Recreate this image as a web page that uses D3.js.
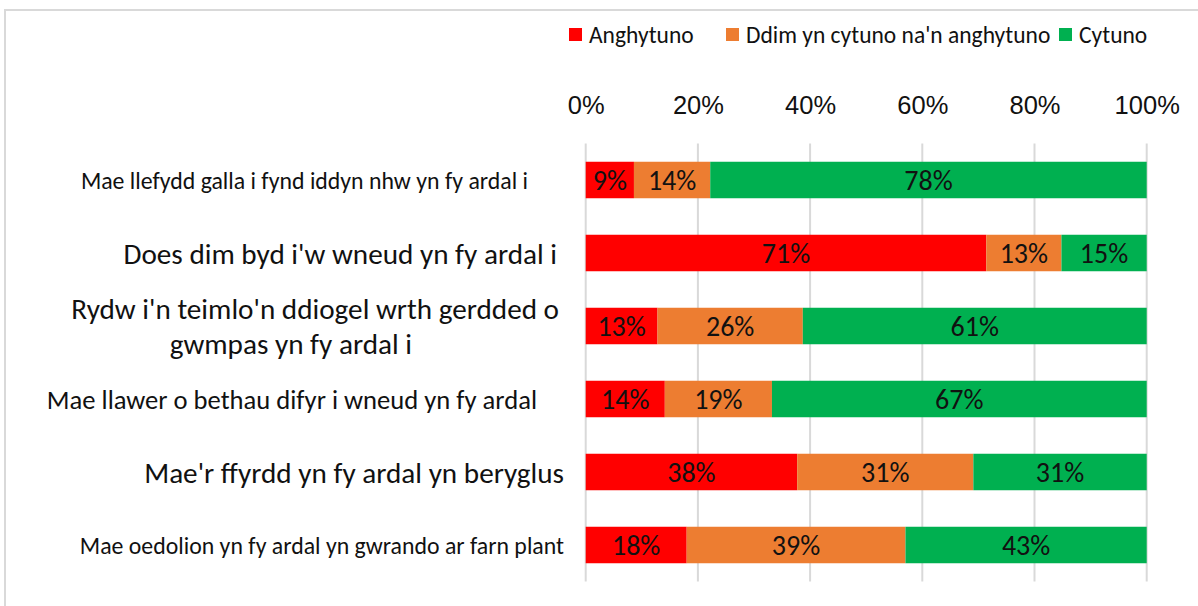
<!DOCTYPE html>
<html>
<head>
<meta charset="utf-8">
<script src="https://cdn.jsdelivr.net/npm/d3@7"></script>
<style>
  body { margin: 0; background: #fff; }
  svg { display: block; font-family: Carlito, Calibri, Lato, sans-serif; }
</style>
</head>
<body>
<svg></svg>
<script>
var WIDTH = 1198;
var HEIGHT = 606;

var categories = [
    "Mae llefydd galla i fynd iddyn nhw yn fy ardal i",
    "Does dim byd i'w wneud yn fy ardal i",
    "Rydw i'n teimlo'n ddiogel wrth gerdded o\ngwmpas yn fy ardal i",
    "Mae llawer o bethau difyr i wneud yn fy ardal",
    "Mae'r ffyrdd yn fy ardal yn beryglus",
    "Mae oedolion yn fy ardal yn gwrando ar farn plant"
];
var seriesNames = ["Anghytuno", "Ddim yn cytuno na'n anghytuno", "Cytuno"];
var anghytuno = [8.6, 71.4, 12.8, 14.1, 37.7, 18.0];
var ddim = [13.6, 13.4, 25.9, 19.1, 31.4, 39.0];
var cytuno = [77.8, 15.2, 61.3, 66.8, 30.9, 43.0];
var tickValues = [0, 20, 40, 60, 80, 100];

var colors = ["#ff0000", "#ed7d31", "#00b050"];

// label styling per row (excel shrank some of them)
var labelSize = [23.8, 29.2, 29.2, 26.6, 29.2, 23.8];
var labelRight = [[528], [557], [559, 412], [537], [564], [564]];

var margin = { top: 143.5, left: 585.7, right: 51.3, bottom: 24.5 };

var rows = categories.map(function(c, i) {
    return { label: c, Anghytuno: anghytuno[i], Ddim: ddim[i], Cytuno: cytuno[i] };
});
var keys = ["Anghytuno", "Ddim", "Cytuno"];

var svg = d3.select('svg')
    .attr('width', WIDTH)
    .attr('height', HEIGHT);

// chart frame
svg.append('rect')
    .attr('x', 5).attr('y', 10)
    .attr('width', WIDTH + 20).attr('height', HEIGHT + 20)
    .attr('fill', 'none')
    .attr('stroke', '#d9d9d9')
    .attr('stroke-width', 2);

var x = d3.scaleLinear()
    .domain([0, 100])
    .range([margin.left, WIDTH - margin.right]);

var y = d3.scaleBand()
    .domain(d3.range(categories.length))
    .range([margin.top, HEIGHT - margin.bottom])
    .paddingInner(0.5)
    .paddingOuter(0.25);

// gridlines
svg.append('g').selectAll('line')
    .data(tickValues)
    .enter()
    .append('line')
    .attr('x1', function(d) { return x(d); })
    .attr('x2', function(d) { return x(d); })
    .attr('y1', margin.top)
    .attr('y2', HEIGHT - margin.bottom)
    .attr('stroke', '#d9d9d9')
    .attr('stroke-width', 2);

// top axis labels
var axis = svg.append('g')
    .attr('transform', 'translate(0,114)')
    .call(d3.axisTop(x).tickValues(tickValues).tickSize(0).tickPadding(0)
        .tickFormat(function(d) { return d + '%'; }));
axis.select('.domain').remove();
axis.selectAll('text')
    .attr('font-family', null)
    .attr('font-size', 25.5)
    .attr('fill', '#111');

var stack = d3.stack().keys(keys);
var layers = stack(rows);

var layer = svg.append('g').selectAll('g')
    .data(layers)
    .enter()
    .append('g')
    .attr('fill', function(d, i) { return colors[i]; });

layer.selectAll('rect')
    .data(function(d) { return d; })
    .enter()
    .append('rect')
    .attr('x', function(d) { return x(d[0]); })
    .attr('y', function(d, i) { return y(i); })
    .attr('width', function(d) { return x(d[1]) - x(d[0]); })
    .attr('height', y.bandwidth());

layer.selectAll('text')
    .data(function(d) { return d; })
    .enter()
    .append('text')
    .attr('x', function(d) { return (x(d[0]) + x(d[1])) / 2; })
    .attr('y', function(d, i) { return y(i) + y.bandwidth() / 2; })
    .attr('dy', '0.36em')
    .attr('text-anchor', 'middle')
    .attr('font-size', 28)
    .attr('fill', '#111')
    .text(function(d) { return d3.format('.0f')(d[1] - d[0]) + '%'; });

// category labels
var cat = svg.append('g').selectAll('text')
    .data(categories)
    .enter()
    .append('text')
    .attr('font-size', function(d, i) { return labelSize[i]; })
    .attr('fill', '#111')
    .attr('text-anchor', 'end');

cat.each(function(d, i) {
    var lines = d.split('\n');
    var mid = y(i) + y.bandwidth() / 2;
    var lh = labelSize[i] * 1.2;
    var t = d3.select(this);
    lines.forEach(function(line, j) {
        t.append('tspan')
            .attr('x', labelRight[i][j])
            .attr('y', mid + (j - (lines.length - 1) / 2) * lh)
            .attr('dy', '0.36em')
            .text(line);
    });
});

// legend
var legendX = [569, 726, 1059];
var legend = svg.append('g').selectAll('g')
    .data(seriesNames)
    .enter()
    .append('g')
    .attr('transform', function(d, i) { return 'translate(' + legendX[i] + ',28)'; });

legend.append('rect')
    .attr('width', 13)
    .attr('height', 13)
    .attr('fill', function(d, i) { return colors[i]; });

legend.append('text')
    .attr('x', 20)
    .attr('y', 7)
    .attr('dy', '0.36em')
    .attr('font-size', 23.5)
    .attr('fill', '#111')
    .text(function(d) { return d; });
</script>
</body>
</html>
